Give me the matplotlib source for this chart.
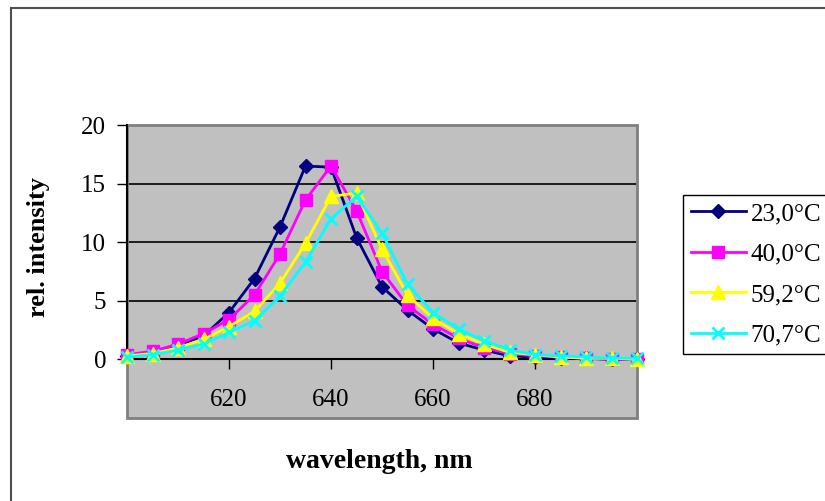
from matplotlib import pyplot as plt
from matplotlib.patches import Rectangle

plt.rcParams['font.family'] = ['Liberation Serif', 'DejaVu Serif']

wavelength = [600, 605, 610, 615, 620, 625, 630, 635, 640, 645, 650,
              655, 660, 665, 670, 675, 680, 685, 690, 695, 700]
t23 = [0.3, 0.6, 1.2, 2.0, 4.0, 6.9, 11.3, 16.5, 16.4, 10.4, 6.2,
       4.2, 2.6, 1.4, 0.8, 0.3, 0.2, 0.1, 0.1, 0.0, 0.0]
t40 = [0.4, 0.7, 1.3, 2.2, 3.4, 5.5, 9.0, 13.6, 16.5, 12.7, 7.5,
       4.6, 3.0, 1.8, 1.0, 0.5, 0.3, 0.2, 0.1, 0.0, 0.0]
t59 = [0.3, 0.5, 1.0, 1.7, 2.8, 4.1, 6.5, 9.9, 13.9, 14.2, 9.4,
       5.5, 3.5, 2.2, 1.3, 0.6, 0.4, 0.2, 0.1, 0.1, 0.0]
t70 = [0.2, 0.4, 0.8, 1.3, 2.3, 3.3, 5.4, 8.3, 12.0, 13.9, 10.8,
       6.4, 4.0, 2.6, 1.6, 0.8, 0.4, 0.3, 0.2, 0.1, 0.1]
labels = ['23,0°C', '40,0°C', '59,2°C', '70,7°C']
x_ticks = [620, 640, 660, 680]
y_ticks = [0, 5, 10, 15, 20]

fig = plt.figure(figsize=(8.25, 5.01), dpi=100)
fig.patches.append(Rectangle((11 / 825, -0.1), 1.1, 1 - 8 / 501 + 0.1,
                             transform=fig.transFigure, fill=False,
                             edgecolor='#505050', linewidth=1.5))

ax = fig.add_axes([127 / 825, 1 - 418 / 501, 510 / 825, 293 / 501])
ax.set_facecolor('#c0c0c0')
ax.set_xlim(600, 700)
ax.set_ylim(-5, 20)

for y in [5, 10, 15, 20]:
    ax.axhline(y, color='black', linewidth=1.2, zorder=1)

# plot area frame
ax.add_patch(Rectangle((0, 0), 1, 1, transform=ax.transAxes, fill=False,
                       edgecolor='#808080', linewidth=2, zorder=1, clip_on=False))

styles = [('#000080', 'D', 7, 1), ('#ff00ff', 's', 8.5, 1),
          ('#ffff00', '^', 9.5, 1), ('#00ffff', 'x', 9, 2)]
for vals, lab, (c, m, ms, mew) in zip([t23, t40, t59, t70], labels, styles):
    ax.plot(wavelength, vals, color=c, marker=m, markersize=ms,
            markeredgewidth=mew, linewidth=2, label=lab, zorder=3,
            clip_on=False)

for s in ['top', 'right']:
    ax.spines[s].set_visible(False)
ax.spines['bottom'].set_position(('data', 0))
ax.spines['bottom'].set_color('black')
ax.spines['bottom'].set_linewidth(1.5)
ax.spines['left'].set_bounds(0, 20)
ax.spines['left'].set_linewidth(1.5)

ax.set_xticks(x_ticks)
ax.set_yticks(y_ticks)
ax.tick_params(axis='x', direction='out', length=7, width=1, pad=14, labelsize=18)
ax.tick_params(axis='y', direction='out', length=7, width=1, pad=8, labelsize=18)

fig.text(38 / 825, 1 - 247 / 501, 'rel. intensity', fontsize=19,
         fontweight='bold', rotation=90, ha='center', va='center')
fig.text(379 / 825, 1 - 461 / 501, 'wavelength, nm', fontsize=20,
         fontweight='bold', ha='center', va='center')

leg = fig.legend(loc='upper left', bbox_to_anchor=(683 / 825, 1 - 195 / 501),
                 borderaxespad=0, fontsize=18, frameon=True, fancybox=False,
                 framealpha=1, edgecolor='black', handlelength=2.2,
                 handletextpad=0.2, labelspacing=0.72, borderpad=0.3)
leg.get_frame().set_linewidth(1)

plt.savefig('out.png', dpi=100)
